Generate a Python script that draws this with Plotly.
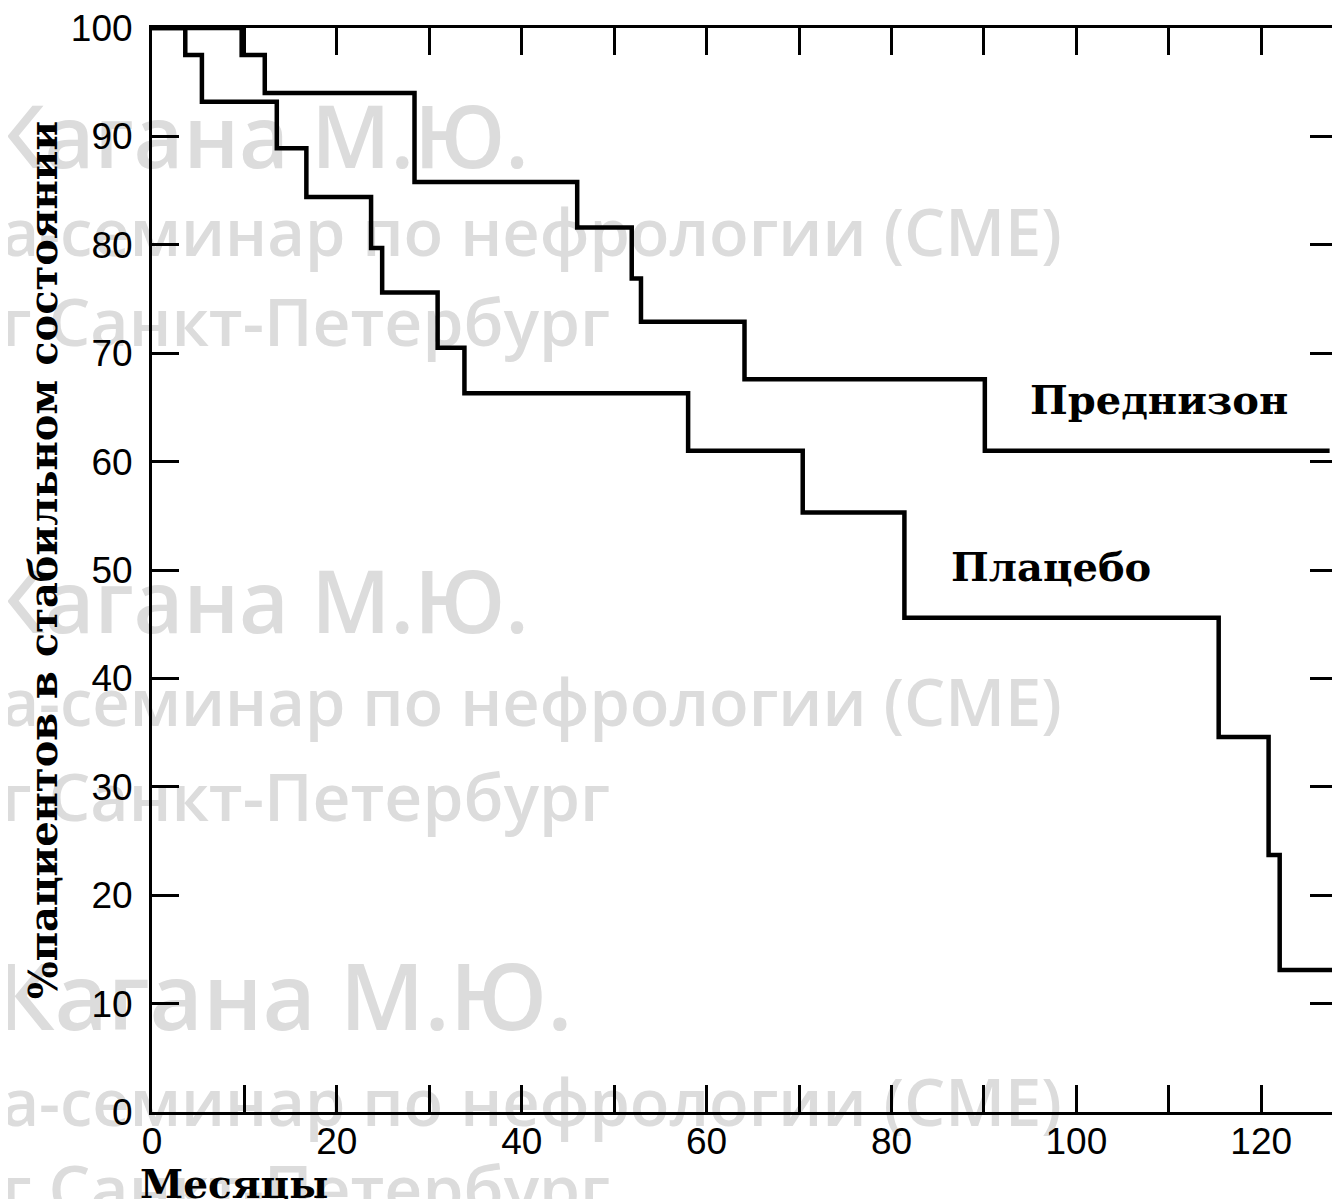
import plotly.graph_objects as go

# ---- data (months, % patients in stable state) ----
pred_months = [0, 9.7, 12.2, 28.4, 46.0, 51.9, 52.9, 64.1, 90.1, 127.4]
pred_pct    = [100, 97.5, 94.0, 85.8, 81.6, 76.9, 72.9, 67.6, 61.0, 61.0]

plac_months = [0, 3.6, 5.4, 13.5, 16.7, 23.7, 24.9, 30.9, 33.8, 58.0, 70.4, 81.4, 115.4, 120.8, 122.0, 128.2]
plac_pct    = [100, 97.5, 93.2, 88.9, 84.4, 79.7, 75.6, 70.5, 66.3, 61.0, 55.3, 45.6, 34.6, 23.7, 13.1, 13.1]

x_tickvals = list(range(0, 130, 10))
x_ticktext = [str(v) if v % 20 == 0 else "" for v in x_tickvals]
y_tickvals = list(range(0, 101, 10))
y_ticktext = [str(v) for v in y_tickvals]

series_labels = ["Преднизон", "Плацебо"]
x_title = "Месяцы"
y_title = "%пациентов в стабильном состоянии"
watermark_lines = ["Кагана М.Ю.", "а-семинар по нефрологии (CME)", "г Санкт-Петербург"]

OFF = 8  # page body margin
W, H = 1340 - OFF, 1199 - OFF
L, R, T, B = 152 - OFF, 0, 28 - OFF, 1199 - 1112
PW, PH = W - L - R, H - T - B


def px(xp):  # page pixel -> paper x
    return (xp - OFF - L) / PW


def py(yp):  # page pixel -> paper y
    return (H - B - (yp - OFF)) / PH


fig = go.Figure()
fig.add_trace(go.Scatter(x=pred_months, y=pred_pct, mode="lines", line_shape="hv",
                         line=dict(color="black", width=4.5), showlegend=False, name=series_labels[0]))
fig.add_trace(go.Scatter(x=plac_months, y=plac_pct, mode="lines", line_shape="hv",
                         line=dict(color="black", width=4.5), showlegend=False, name=series_labels[1]))

serif = "DejaVu Serif"
tickfont = dict(family="Liberation Sans, Arial", size=37, color="black")

fig.update_layout(
    width=W, height=H,
    margin=dict(l=L, r=R, t=T, b=B),
    plot_bgcolor="white", paper_bgcolor="white",
    xaxis=dict(range=[0, 128.2], tickmode="array", tickvals=x_tickvals, ticktext=x_ticktext,
               ticks="inside", ticklen=27, tickwidth=3, tickcolor="black",
               showline=True, linewidth=3, linecolor="black", mirror="ticks",
               showgrid=False, zeroline=False, tickfont=tickfont, ticklabelstandoff=-5,
               ticklabeloverflow="allow"),
    yaxis=dict(range=[0, 100], tickmode="array", tickvals=y_tickvals, ticktext=y_ticktext,
               ticks="inside", ticklen=27, tickwidth=3, tickcolor="black",
               showline=True, linewidth=3, linecolor="black", mirror="ticks",
               showgrid=False, zeroline=False, tickfont=tickfont, ticklabelstandoff=9,
               ticklabeloverflow="allow"),
)

# watermark (light gray text, under the curves)
wm_color = "#dcdcdc"
wm_blocks = [(140, 235, 325, -14, 86), (605, 705, 800, -14, 86), (1000, 1105, 1192, -8, 92)]
shapes = []
for (y1, y2, y3, name_left, name_size) in wm_blocks:
    for text, yc, size, xleft in [(watermark_lines[0], y1, name_size, name_left),
                                  (watermark_lines[1], y2, 65, -2),
                                  (watermark_lines[2], y3, 66, -2)]:
        shapes.append(dict(type="rect", xref="paper", yref="paper",
                           x0=px(xleft), x1=px(xleft + 1200), y0=py(yc + 5), y1=py(yc - 5),
                           line=dict(width=0), fillcolor="rgba(0,0,0,0)", layer="below",
                           label=dict(text=text, textposition="middle left", padding=0,
                                      font=dict(family="Open Sans", size=size, color=wm_color,
                                                weight=600))))
fig.update_layout(shapes=shapes)

fig.add_annotation(x=108.9, y=65.7, text=series_labels[0], showarrow=False,
                   xanchor="center", yanchor="middle",
                   font=dict(family=serif, size=40, color="black", weight="bold"))
fig.add_annotation(x=97.3, y=50.3, text=series_labels[1], showarrow=False,
                   xanchor="center", yanchor="middle",
                   font=dict(family=serif, size=40, color="black", weight="bold"))
fig.add_annotation(xref="paper", yref="paper", x=px(234), y=py(1184), text=x_title, showarrow=False,
                   xanchor="center", yanchor="middle",
                   font=dict(family=serif, size=39, color="black", weight="bold"))
fig.add_annotation(xref="paper", yref="paper", x=px(42), y=py(560), text=y_title, showarrow=False,
                   xanchor="center", yanchor="middle",
                   textangle=-90, font=dict(family=serif, size=40, color="black", weight="bold"))

fig.write_html("out.html")
